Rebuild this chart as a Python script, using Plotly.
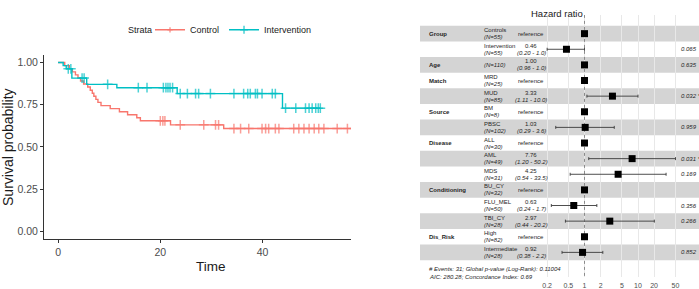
import plotly.graph_objects as go

W, H = 699, 289
FONT = "Liberation Sans, Arial, sans-serif"

# ---------------- Kaplan-Meier data ----------------
ctrl_event_t = [1.3, 2.2, 2.8, 3.4, 3.9, 4.4, 5.0, 5.8, 6.3, 6.7, 7.0, 7.4, 7.8, 8.4,
                10.2, 12.0, 13.6, 15.4, 16.1, 22.0, 32.4]
ctrl_event_s = [0.982, 0.964, 0.945, 0.927, 0.909, 0.891, 0.873, 0.855, 0.836, 0.818,
                0.800, 0.782, 0.764, 0.745, 0.727, 0.709, 0.691, 0.673, 0.655, 0.631, 0.609]
ctrl_cens_t = [20.0, 20.5, 20.9, 23.9, 28.5, 30.8, 31.4, 34.4, 35.7, 37.3, 39.9, 40.6,
               41.2, 42.5, 43.2, 46.1, 47.1, 48.1, 49.1, 50.1, 51.0, 52.0, 54.6, 56.6, 58.2]

int_event_t = [1.0, 1.6, 2.7, 5.6, 11.5, 23.3, 43.9]
int_event_s = [0.982, 0.963, 0.908, 0.871, 0.851, 0.816, 0.730]
int_cens_t = [2.0, 2.5, 4.7, 5.1, 9.7, 15.7, 17.4, 20.6, 21.1, 21.5, 21.9, 22.4, 23.9,
              25.3, 26.9, 27.5, 29.8, 34.4, 36.3, 37.1, 37.6, 38.6, 39.0, 39.9, 41.9, 42.5,
              44.5, 46.5, 48.4, 49.1, 49.7, 50.4, 50.9, 51.3]

strata = ["Control", "Intervention"]
strata_colors = ["#F8766D", "#00BFC4"]

km_xticks = [0, 20, 40]
km_yticks = [0, 0.25, 0.5, 0.75, 1.0]
km_yticktext = ["0.00", "0.25", "0.50", "0.75", "1.00"]

# ---------------- Forest plot data ----------------
fp_vars = ["Group", "", "Age", "Match", "", "Source", "", "Disease", "", "",
           "Conditioning", "", "", "Dis_Risk", ""]
fp_levels = ["Controls", "Intervention", "", "MRD", "MUD", "BM", "PBSC", "ALL", "AML",
             "MDS", "BU_CY", "FLU_MEL", "TBI_CY", "High", "Intermediate"]
fp_n = [55, 55, 110, 25, 85, 8, 102, 30, 49, 31, 32, 50, 28, 82, 28]
fp_hr = [1, 0.46, 1.00, 1, 3.33, 1, 1.03, 1, 7.76, 4.25, 1, 0.63, 2.97, 1, 0.92]
fp_lo = [None, 0.20, 0.96, None, 1.11, None, 0.29, None, 1.20, 0.54, None, 0.24, 0.44, None, 0.38]
fp_hi = [None, 1.0, 1.04, None, 10.0, None, 3.6, None, 50.2, 33.5, None, 1.7, 20.2, None, 2.2]
fp_p = ["", "0.065", "0.635", "", "0.032 *", "", "0.959", "", "0.031 *", "0.169", "",
        "0.356", "0.266", "", "0.852"]
fp_ticks = [0.2, 0.5, 1, 2, 5, 10, 20, 50]
fp_footer = ["# Events: 31; Global p-value (Log-Rank): 0.11004",
             "AIC: 280.28; Concordance Index: 0.69"]


def px_x(p):
    return p / W


def px_y(p):
    return 1 - p / H


def km_points(event_t, event_s, cens_t):
    ev = sorted(zip(event_t, event_s))
    pts = [(0.0, 1.0, 0)]
    for t, s in ev:
        pts.append((t, s, 0))
    for t in cens_t:
        s = 1.0
        for et, es in ev:
            if et <= t:
                s = es
        pts.append((t, s, 1))
    pts.sort(key=lambda p: (p[0], p[2]))
    return [p[0] for p in pts], [p[1] for p in pts], [7 if p[2] else 0 for p in pts]


fig = go.Figure()

groups = [(ctrl_event_t, ctrl_event_s, ctrl_cens_t), (int_event_t, int_event_s, int_cens_t)]
for name, col, (et, es, ct) in zip(strata, strata_colors, groups):
    xs, ys, sz = km_points(et, es, ct)
    fig.add_trace(go.Scatter(
        x=xs, y=ys, mode="lines+markers", name=name,
        line=dict(shape="hv", color=col, width=1.4),
        marker=dict(symbol="cross-thin", size=sz, color=col, line=dict(width=1.5, color=col)),
        xaxis="x", yaxis="y", hoverinfo="skip"))

# forest plot
rows = list(range(len(fp_hr)))
Y_TOP, Y_BOT = -1.2, 15.58
fig.add_trace(go.Scatter(x=[1, 1], y=[Y_TOP, Y_BOT], mode="lines",
                         line=dict(color="#8c8c8c", width=1, dash="dot"),
                         xaxis="x2", yaxis="y2", showlegend=False, hoverinfo="skip"))
err_plus = [(h - m) if h is not None else 0 for m, h in zip(fp_hr, fp_hi)]
err_minus = [(m - l) if l is not None else 0 for m, l in zip(fp_hr, fp_lo)]
fig.add_trace(go.Scatter(
    x=fp_hr, y=rows, mode="markers",
    marker=dict(symbol="square", size=7, color="black"),
    error_x=dict(type="data", symmetric=False, array=err_plus, arrayminus=err_minus,
                 color="#3a3a3a", thickness=0.9, width=1.5),
    xaxis="x2", yaxis="y2", showlegend=False, hoverinfo="skip"))

shapes = []
for i in rows:
    if i % 2 == 0:
        shapes.append(dict(type="rect", xref="paper", yref="y2", x0=px_x(420), x1=1.0,
                           y0=i - 0.5, y1=i + 0.5, fillcolor="#d4d4d4",
                           line=dict(width=0), layer="below"))

ann = []
tfont = dict(family=FONT, size=6, color="#262626")
for i in rows:
    if fp_vars[i]:
        ann.append(dict(x=px_x(427), y=i, xref="paper", yref="y2", xanchor="left",
                        text="<b>" + fp_vars[i] + "</b>", showarrow=False, font=tfont))
    ntxt = "<i>(N=%d)</i>" % fp_n[i]
    if fp_levels[i]:
        ann.append(dict(x=px_x(482), y=i, xref="paper", yref="y2", xanchor="left", yshift=3.5,
                        text=fp_levels[i], showarrow=False, font=tfont))
        ann.append(dict(x=px_x(482), y=i, xref="paper", yref="y2", xanchor="left", yshift=-3.5,
                        text=ntxt, showarrow=False, font=tfont))
    else:
        ann.append(dict(x=px_x(482), y=i, xref="paper", yref="y2", xanchor="left",
                        text=ntxt, showarrow=False, font=tfont))
    if fp_lo[i] is None:
        ann.append(dict(x=px_x(531), y=i, xref="paper", yref="y2", xanchor="center",
                        text="reference", showarrow=False, font=tfont))
    else:
        ann.append(dict(x=px_x(531), y=i, xref="paper", yref="y2", xanchor="center", yshift=3.5,
                        text="%.2f" % fp_hr[i], showarrow=False, font=tfont))
        ann.append(dict(x=px_x(531), y=i, xref="paper", yref="y2", xanchor="center", yshift=-3.5,
                        text="<i>(%.2f - %.1f)</i>" % (fp_lo[i], fp_hi[i]), showarrow=False, font=tfont))
    if fp_p[i]:
        ann.append(dict(x=px_x(679), y=i, xref="paper", yref="y2", xanchor="left",
                        text="<i>" + fp_p[i] + "</i>", showarrow=False, font=tfont))

for k, line in enumerate(fp_footer):
    ann.append(dict(x=px_x(427), y=px_y(271 + 8 * k), xref="paper", yref="paper",
                    xanchor="left", yanchor="middle", text="<i>" + line + "</i>",
                    showarrow=False, font=tfont))

ann.append(dict(x=px_x(557), y=px_y(14), xref="paper", yref="paper", xanchor="center",
                yanchor="middle", text="Hazard ratio", showarrow=False,
                font=dict(family=FONT, size=9.5, color="#1a1a1a")))
ann.append(dict(x=px_x(8), y=px_y(148), xref="paper", yref="paper", xanchor="center",
                yanchor="middle", text="Survival probability", textangle=-90, showarrow=False,
                font=dict(family=FONT, size=14, color="#1a1a1a")))
ann.append(dict(x=px_x(211), y=px_y(268), xref="paper", yref="paper", xanchor="center",
                yanchor="middle", text="Time", showarrow=False,
                font=dict(family=FONT, size=13.5, color="#1a1a1a")))
ann.append(dict(x=px_x(126), y=px_y(30), xref="paper", yref="paper", xanchor="left",
                yanchor="middle", text="Strata", showarrow=False,
                font=dict(family=FONT, size=9, color="#1a1a1a")))

fig.update_layout(
    width=W, height=H, margin=dict(l=0, r=0, t=0, b=0),
    paper_bgcolor="white", plot_bgcolor="rgba(0,0,0,0)",
    font=dict(family=FONT),
    showlegend=True,
    legend=dict(orientation="h", x=px_x(150), xanchor="left", y=px_y(30), yanchor="middle",
                font=dict(size=9, color="#1a1a1a"), bgcolor="rgba(0,0,0,0)", itemwidth=30,
                tracegroupgap=0),
    xaxis=dict(domain=[px_x(44), px_x(351)], range=[-2.75, 57.3], anchor="y",
               showline=True, linecolor="#333333", linewidth=1.1, showgrid=False, zeroline=False,
               ticks="outside", ticklen=3, tickcolor="#333333", tickwidth=1,
               tickvals=km_xticks, tickfont=dict(size=10.5, color="#4d4d4d")),
    yaxis=dict(domain=[px_y(241), px_y(55)], range=[-0.047, 1.047], anchor="x",
               showline=True, linecolor="#333333", linewidth=1.1, showgrid=False, zeroline=False,
               ticks="outside", ticklen=3, tickcolor="#333333", tickwidth=1,
               tickvals=km_yticks, ticktext=km_yticktext, tickfont=dict(size=10.5, color="#4d4d4d")),
    xaxis2=dict(type="log", domain=[px_x(540), px_x(690)],
                range=[(540 - 584.5) / 53.5, (690 - 584.5) / 53.5], anchor="y2",
                showline=False, zeroline=False, showgrid=True, gridcolor="#e8e8e8", gridwidth=1,
                tickvals=fp_ticks, ticktext=[str(v) for v in fp_ticks], ticks="",
                ticklabelstandoff=3,
                tickfont=dict(size=7, color="#4d4d4d")),
    yaxis2=dict(domain=[px_y(279), px_y(15)], range=[Y_BOT, Y_TOP], anchor="x2",
                visible=False, showgrid=False, zeroline=False),
    shapes=shapes, annotations=ann,
)

fig.write_html("out.html", config={"displayModeBar": False},
               post_script="document.body.style.margin='0';document.body.style.padding='0';")
